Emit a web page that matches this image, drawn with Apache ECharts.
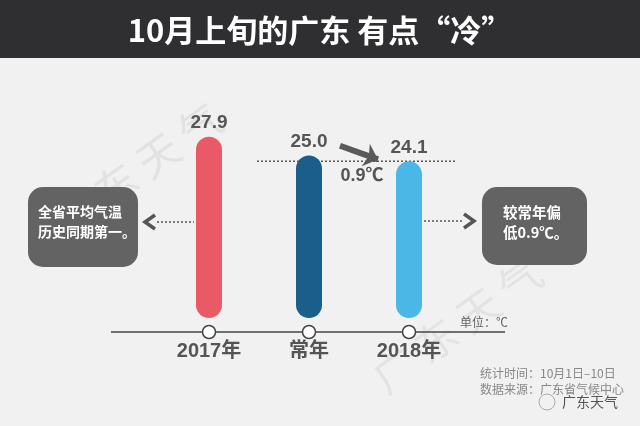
<!DOCTYPE html>
<html><head><meta charset="utf-8">
<script src="https://cdn.jsdelivr.net/npm/echarts@6/dist/echarts.min.js"></script>
<style>html,body{margin:0;padding:0;background:#f1f1f1}#c{width:640px;height:426px}</style>
</head><body><div id="c"></div>
<script>
const categories = ['2017年', '常年', '2018年'];
const values = [27.9, 25.0, 24.1];
const barColors = ['#e95a66', '#1c5e8b', '#4bb7e6'];
const refLevel = 24.1;
const diffText = '0.9℃';
const arrowFrom = [1.31, 26.5];
const arrowTo = [1.69, 24.4];
const refLineRange = [0.48, 2.47];

const chart = echarts.init(document.getElementById('c'));
const F = '"Noto Sans CJK SC", "Noto Sans", sans-serif';
const FN = '"Liberation Sans", "Noto Sans CJK SC", sans-serif';
chart.setOption({
  backgroundColor: '#f1f1f1',
  animation: false,
  grid: { left: 159, width: 300, bottom: 108, height: 195 },
  xAxis: [
    { type: 'category', data: categories, axisLine: { show: false }, axisTick: { show: false },
      axisLabel: { margin: 23, fontSize: 20, fontWeight: 'bold', color: '#555', fontFamily: FN } },
    { type: 'value', min: -0.5, max: 2.5, show: false }
  ],
  yAxis: { type: 'value', min: 0, max: 30, show: false },
  graphic: [
    { type: 'rect', shape: { x: 0, y: 0, width: 640, height: 58 }, style: { fill: '#2f2f31' }, z: 0 },
    { type: 'text', x: 320, y: 30, style: { text: '10月上旬的广东 有点“冷”', fill: '#fff', fontSize: 31, fontWeight: 'bold', fontFamily: F, align: 'center', verticalAlign: 'middle' } },
    // watermarks
    { type: 'text', x: 45, y: 210, rotation: 0.62, style: { text: '广 东 天 气', fill: 'rgba(140,140,140,0.15)', fontSize: 42, fontFamily: F }, z: 0 },
    { type: 'text', x: 365, y: 365, rotation: 0.62, style: { text: '广 东 天 气', fill: 'rgba(140,140,140,0.13)', fontSize: 42, fontFamily: F }, z: 0 },
    // axis line
    { type: 'line', shape: { x1: 111, y1: 332, x2: 505, y2: 332 }, style: { stroke: '#444', lineWidth: 1.5 }, z: 1 },
    { type: 'text', x: 460, y: 322, style: { text: '单位：℃', fill: '#666', fontSize: 12, fontFamily: F, verticalAlign: 'middle' } },
    // left box
    { type: 'rect', shape: { x: 28, y: 187, width: 110, height: 80, r: 15 }, style: { fill: '#636364' } },
    { type: 'text', x: 38, y: 222, style: { text: '全省平均气温\n历史同期第一。', fill: '#fff', fontSize: 14, lineHeight: 20, fontWeight: 'bold', fontFamily: F, verticalAlign: 'middle' } },
    { type: 'polyline', shape: { points: [[157, 222], [194, 222]] }, style: { stroke: '#555', lineWidth: 1.5, lineDash: [2, 2] } },
    { type: 'polyline', shape: { points: [[155, 215], [145, 222], [155, 229]] }, style: { stroke: '#555', lineWidth: 3.5, fill: null } },
    // right box
    { type: 'rect', shape: { x: 482, y: 187, width: 105, height: 78, r: 15 }, style: { fill: '#636364' } },
    { type: 'text', x: 503, y: 222, style: { text: '较常年偏\n低0.9℃。', fill: '#fff', fontSize: 14.5, lineHeight: 20, fontWeight: 'bold', fontFamily: F, verticalAlign: 'middle' } },
    { type: 'polyline', shape: { points: [[424, 221], [464, 221]] }, style: { stroke: '#555', lineWidth: 1.5, lineDash: [2, 2] } },
    { type: 'polyline', shape: { points: [[464, 214], [474, 221], [464, 228]] }, style: { stroke: '#555', lineWidth: 3.5, fill: null } },
    // diff label
    { type: 'text', x: 362, y: 176, style: { text: diffText, fill: '#555', fontSize: 18, fontWeight: 'bold', fontFamily: FN, align: 'center', verticalAlign: 'middle' } },
    // footer
    { type: 'text', x: 480, y: 373, style: { text: '统计时间：10月1日–10日', fill: '#888', fontSize: 12, fontFamily: F, verticalAlign: 'middle' } },
    { type: 'text', x: 480, y: 389, style: { text: '数据来源：广东省气候中心', fill: '#888', fontSize: 12, fontFamily: F, verticalAlign: 'middle' } },
    { type: 'circle', shape: { cx: 547, cy: 402, r: 8 }, style: { fill: null, stroke: '#aaa', lineWidth: 1 } },
    { type: 'text', x: 562, y: 402, style: { text: '广东天气', fill: '#555', fontSize: 14, fontFamily: F, verticalAlign: 'middle' } }
  ],
  series: [
    { type: 'bar', barWidth: 26, data: values.map((v, i) => ({ value: v, itemStyle: { color: barColors[i] } })),
      itemStyle: { borderRadius: 13 },
      label: { show: true, position: 'top', distance: 4, fontSize: 19, fontWeight: 'bold', color: '#555', fontFamily: FN,
        formatter: p => Number(p.value).toFixed(1) }, z: 2 },
    { type: 'line', xAxisIndex: 1, data: [[refLineRange[0], refLevel], [refLineRange[1], refLevel]], symbol: 'none',
      lineStyle: { color: '#555', width: 1.5, type: [2, 2] }, z: 1,
      markLine: { silent: true, symbol: ['none', 'arrow'], symbolSize: [18, 13], label: { show: false },
        lineStyle: { color: '#5a5a5a', width: 6, type: 'solid' },
        data: [[{ coord: arrowFrom }, { coord: arrowTo }]] } },
    { type: 'scatter', data: categories.map(() => 0), symbol: 'circle', symbolSize: 13, symbolOffset: [0, 14],
      itemStyle: { color: '#fff', borderColor: '#444', borderWidth: 1.5, opacity: 1 }, z: 5 }
  ]
});
</script></body></html>
